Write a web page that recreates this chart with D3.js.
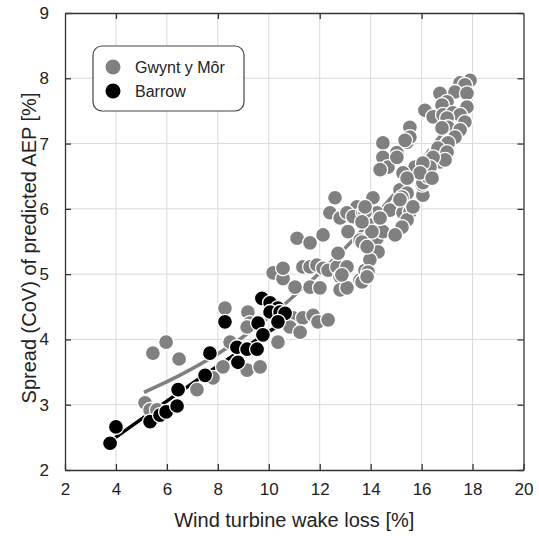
<!DOCTYPE html>
<html>
<head>
<meta charset="utf-8">
<script src="https://cdn.jsdelivr.net/npm/d3@7"></script>
<style>
  body { margin: 0; background: #fff; }
  text { font-family: "Liberation Sans", Arial, sans-serif; fill: #222; }
</style>
</head>
<body>
<script>
// Gwynt y Mor scatter (wake loss %, CoV %)
var gwyntX = [5.14,5.34,5.61,5.97,5.45,5.97,6.48,7.18,7.81,8.20,8.28,8.48,9.15,9.66,9.18,9.26,10.36,9.15,
  10.17,10.56,10.56,11.11,11.62,12.13,11.34,11.62,11.89,12.13,12.33,12.68,12.72,12.80,13.07,11.03,11.62,12.01,
  12.80,13.07,13.58,13.78,10.95,11.34,11.74,11.93,12.33,10.83,11.23,12.60,13.46,14.09,12.40,12.80,13.07,13.31,
  13.70,13.86,14.25,14.76,15.27,13.11,13.58,14.25,14.48,14.29,13.97,13.90,13.66,14.05,13.66,12.87,13.86,13.78,
  15.54,15.43,15.23,14.96,14.37,13.66,13.86,15.15,15.43,16.05,16.02,15.23,15.66,15.15,14.48,15.03,15.43,14.48,
  14.68,14.37,15.54,15.74,16.05,16.25,16.33,16.60,16.72,15.27,17.90,17.51,17.70,17.31,17.78,16.72,17.00,17.78,
  16.80,16.13,16.45,16.84,17.23,17.51,17.70,17.00,17.04,16.80,17.51,17.31,15.54,15.54,15.35,17.04,16.64,17.00,
  16.92,16.45,16.33,16.05,15.94,15.43,16.41,15.03,13.78];
var gwyntY = [3.03,2.92,2.92,2.89,3.79,3.96,3.70,3.23,3.41,3.58,4.48,3.96,3.53,3.58,4.42,4.25,3.96,4.19,
  5.02,4.93,5.09,5.55,5.48,5.60,5.11,5.11,5.14,5.09,5.06,5.11,5.32,4.96,5.11,4.80,4.80,4.79,
  4.76,4.79,4.91,5.06,4.33,4.33,4.37,4.27,4.30,4.19,4.11,6.17,6.03,6.17,5.94,5.86,5.94,5.88,
  5.94,5.80,5.94,5.98,5.94,5.65,5.52,5.55,5.65,5.34,5.22,5.03,4.88,5.65,5.49,4.99,4.96,5.95,
  5.95,5.83,5.72,5.60,5.86,5.80,5.42,6.29,6.24,6.21,6.37,6.18,6.03,6.14,7.01,6.86,7.02,6.79,
  6.64,6.60,6.56,6.64,6.40,6.49,6.75,6.90,6.72,6.55,7.97,7.93,7.90,7.79,7.77,7.77,7.64,7.56,
  7.59,7.51,7.41,7.44,7.47,7.44,7.33,7.39,7.25,7.24,7.21,7.10,7.25,7.10,7.05,7.01,6.93,6.87,
  6.75,6.79,6.64,6.70,6.55,6.47,6.47,6.79,6.03];

// Barrow scatter
var barrowX = [3.77,4.00,5.34,5.73,5.97,6.40,6.44,7.50,7.69,8.28,8.75,8.79,9.15,9.54,9.58,9.77,9.73,10.05,
  10.36,10.05,10.44,10.64,10.36];
var barrowY = [2.41,2.66,2.74,2.84,2.89,2.98,3.23,3.45,3.79,4.27,3.88,3.65,3.85,3.85,4.25,4.07,4.63,4.56,
  4.48,4.42,4.42,4.40,4.27];

// fitted trend lines
var gwyntFitX = [5.1, 6.5, 8.4, 10.8, 13.0, 15.0, 17.9];
var gwyntFitY = [3.19, 3.45, 3.88, 4.60, 5.40, 6.26, 7.72];
var barrowFitX = [3.7, 6.9, 10.4];
var barrowFitY = [2.42, 3.30, 4.22];

var xTicks = [2,4,6,8,10,12,14,16,18,20];
var yTicks = [2,3,4,5,6,7,8,9];
var seriesNames = ["Gwynt y Môr", "Barrow"];
var seriesColors = ["#808080", "#000000"];

var width = 539, height = 536;
var margin = {left: 65, right: 15.5, top: 13, bottom: 66};

var svg = d3.select("body").append("svg")
    .attr("width", width)
    .attr("height", height);

var x = d3.scaleLinear().domain([2, 20]).range([margin.left, width - margin.right]);
var y = d3.scaleLinear().domain([2, 9]).range([height - margin.bottom, margin.top]);

// grid
svg.append("g").selectAll("line")
    .data(xTicks.slice(1, -1))
    .enter().append("line")
    .attr("x1", d => x(d)).attr("x2", d => x(d))
    .attr("y1", y(2)).attr("y2", y(9))
    .attr("stroke", "#d9d9d9").attr("stroke-width", 1);
svg.append("g").selectAll("line")
    .data(yTicks.slice(1, -1))
    .enter().append("line")
    .attr("x1", x(2)).attr("x2", x(20))
    .attr("y1", d => y(d)).attr("y2", d => y(d))
    .attr("stroke", "#d9d9d9").attr("stroke-width", 1);

// axes with inward ticks
var axisColor = "#333";
var axBottom = svg.append("g").attr("transform", "translate(0," + y(2) + ")")
    .call(d3.axisBottom(x).tickValues(xTicks).tickSizeInner(-6).tickSizeOuter(0).tickPadding(13));
var axLeft = svg.append("g").attr("transform", "translate(" + x(2) + ",0)")
    .call(d3.axisLeft(y).tickValues(yTicks).tickFormat(d3.format("d")).tickSizeInner(-6).tickSizeOuter(0).tickPadding(16));
var axTop = svg.append("g").attr("transform", "translate(0," + y(9) + ")")
    .call(d3.axisTop(x).tickValues([4, 8, 12, 16]).tickSizeInner(-6).tickSizeOuter(0).tickFormat(""));
var axRight = svg.append("g").attr("transform", "translate(" + x(20) + ",0)")
    .call(d3.axisRight(y).tickValues(yTicks).tickSizeInner(-6).tickSizeOuter(0).tickFormat(""));

[axBottom, axLeft, axTop, axRight].forEach(function(a) {
  a.select(".domain").attr("stroke", axisColor).attr("stroke-width", 1.3);
  a.selectAll(".tick line").attr("stroke", axisColor).attr("stroke-width", 1.3);
  a.selectAll("text").style("font-family", "'Liberation Sans', Arial, sans-serif")
    .style("font-size", "17px").attr("fill", "#222");
});

// trend lines (beneath the markers)
var line = d3.line().x(d => x(d[0])).y(d => y(d[1])).curve(d3.curveMonotoneX);
svg.append("path")
    .attr("d", line(d3.zip(gwyntFitX, gwyntFitY)))
    .attr("fill", "none").attr("stroke", "#808080").attr("stroke-width", 3.5);
svg.append("path")
    .attr("d", line(d3.zip(barrowFitX, barrowFitY)))
    .attr("fill", "none").attr("stroke", "#000").attr("stroke-width", 3.5);

// markers
svg.append("g").selectAll("circle")
    .data(d3.zip(gwyntX, gwyntY))
    .enter().append("circle")
    .attr("cx", d => x(d[0])).attr("cy", d => y(d[1]))
    .attr("r", 7.5)
    .attr("fill", seriesColors[0]).attr("stroke", "#fff").attr("stroke-width", 1.3);
svg.append("g").selectAll("circle")
    .data(d3.zip(barrowX, barrowY))
    .enter().append("circle")
    .attr("cx", d => x(d[0])).attr("cy", d => y(d[1]))
    .attr("r", 7.5)
    .attr("fill", seriesColors[1]).attr("stroke", "#fff").attr("stroke-width", 1.3);

// axis titles
svg.append("text")
    .attr("x", (x(2) + x(20)) / 2).attr("y", 527)
    .attr("text-anchor", "middle")
    .style("font-size", "20px")
    .text("Wind turbine wake loss [%]");
svg.append("text")
    .attr("transform", "translate(36,248) rotate(-90)")
    .attr("text-anchor", "middle")
    .style("font-size", "20px")
    .text("Spread (CoV) of predicted AEP [%]");

// legend
var legend = svg.append("g");
legend.append("rect")
    .attr("x", 93).attr("y", 46).attr("width", 151).attr("height", 65)
    .attr("rx", 9).attr("ry", 9)
    .attr("fill", "#fff").attr("stroke", "#444").attr("stroke-width", 1.2);
seriesNames.forEach(function(name, i) {
  legend.append("circle")
    .attr("cx", 113).attr("cy", 67 + i * 24).attr("r", 7.5)
    .attr("fill", seriesColors[i]);
  legend.append("text")
    .attr("x", 135).attr("y", 73 + i * 24)
    .style("font-size", "16px")
    .text(name);
});
</script>
</body>
</html>
